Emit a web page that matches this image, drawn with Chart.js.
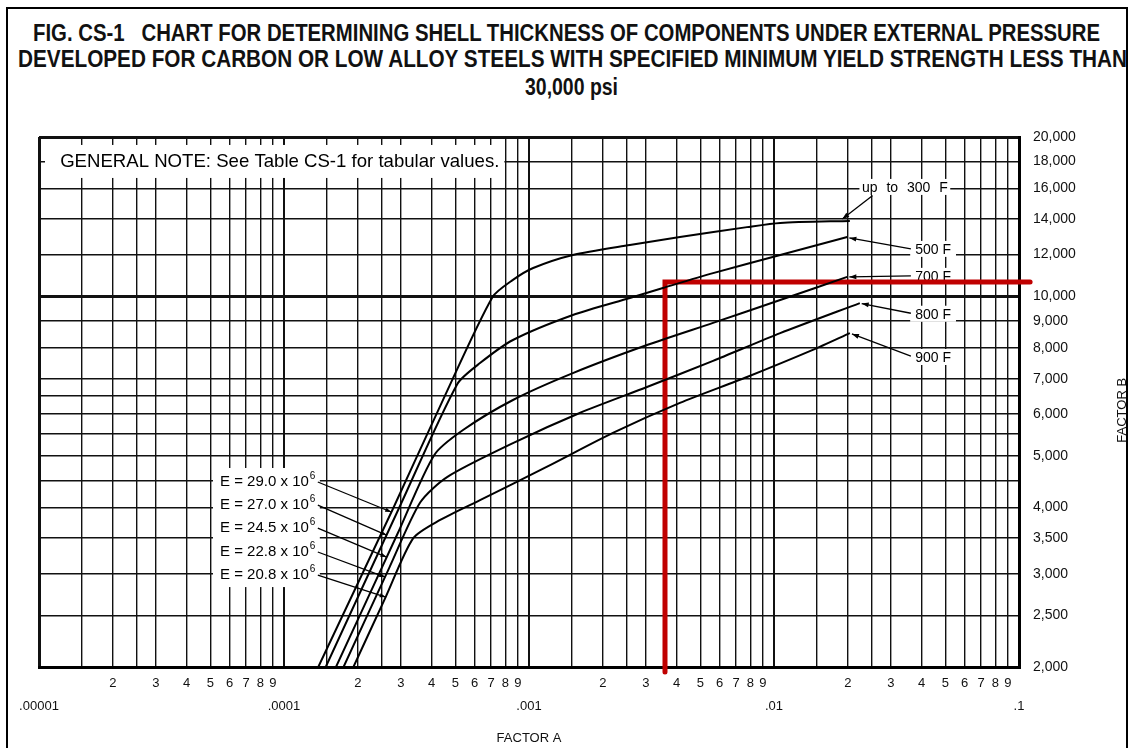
<!DOCTYPE html>
<html>
<head>
<meta charset="utf-8">
<title>Fig. CS-1</title>
<script src="https://cdn.jsdelivr.net/npm/chart.js@4.4.1/dist/chart.umd.min.js"></script>
<style>
  html, body { margin: 0; padding: 0; background: #fff; }
  #wrap { position: relative; width: 1136px; height: 748px; overflow: hidden; }
  #frame { position: absolute; left: 6px; top: 7px; width: 1122px; height: 800px; border: 2px solid #000; box-sizing: border-box; }
  .t { position: absolute; white-space: nowrap; font-family: 'Liberation Sans', Arial, sans-serif; font-weight: bold;
       font-size: 24px; line-height: 24px; color: #111; transform-origin: 0 0; }
  canvas { position: absolute; left: 0; top: 0; }
</style>
</head>
<body>
<div id="wrap">
  <div id="frame"></div>
  <div class="t" style="left:33px;top:21px" data-w="1067">FIG. CS-1&nbsp;&nbsp;&nbsp;CHART FOR DETERMINING SHELL THICKNESS OF COMPONENTS UNDER EXTERNAL PRESSURE</div>
  <div class="t" style="left:18px;top:47px" data-w="1109">DEVELOPED FOR CARBON OR LOW ALLOY STEELS WITH SPECIFIED MINIMUM YIELD STRENGTH LESS THAN</div>
  <div class="t" style="left:525px;top:75px" data-w="93">30,000 psi</div>
  <canvas id="cs1" width="1136" height="748"></canvas>
</div>
<script>
/* ==========================================================================
   Fig. CS-1 — external pressure chart, Factor A vs Factor B (log-log)
   ========================================================================== */

const plotFont = "'Liberation Sans', Arimo, Arial, sans-serif";

// Curves, one pair of arrays per temperature (Factor A, Factor B)
const curveNames = ['up to 300 F', '500 F', '700 F', '800 F', '900 F'];
const modulusLabels = ['29.0', '27.0', '24.5', '22.8', '20.8'];

const factorA300 = [1.38e-4, 2.80e-4, 4.40e-4, 7.10e-4, 8.60e-4, 1.04e-3, 1.51e-3, 2.58e-3, 4.13e-3, 7.76e-3, 1.06e-2, 2.04e-2];
const factorB300 = [2000, 4000, 6300, 9980, 10750, 11320, 11980, 12510, 12950, 13520, 13770, 13890];

const factorA500 = [1.48e-4, 3.00e-4, 5.10e-4, 6.31e-4, 8.60e-4, 1.51e-3, 2.58e-3, 3.52e-3, 5.64e-3, 1.06e-2, 1.99e-2];
const factorB500 = [2000, 4060, 6840, 7490, 8280, 9230, 9940, 10380, 11070, 11980, 12950];

const factorA700 = [1.63e-4, 2.90e-4, 4.10e-4, 5.38e-4, 8.60e-4, 1.51e-3, 3.03e-3, 5.64e-3, 1.06e-2, 1.99e-2];
const factorB700 = [2000, 3560, 5020, 5600, 6380, 7170, 8100, 8920, 9850, 10890];

const factorA800 = [1.75e-4, 2.70e-4, 3.60e-4, 4.63e-4, 8.60e-4, 1.61e-3, 3.03e-3, 5.64e-3, 1.06e-2, 2.24e-2];
const factorB800 = [2000, 3090, 4090, 4565, 5290, 6030, 6750, 7560, 8530, 9720];

const factorA900 = [1.92e-4, 2.60e-4, 3.37e-4, 4.30e-4, 6.31e-4, 1.18e-3, 2.20e-3, 4.13e-3, 7.76e-3, 1.44e-2, 2.04e-2];
const factorB900 = [2000, 2710, 3500, 3780, 4130, 4770, 5530, 6300, 7050, 7930, 8530];

// Red construction line drawn over the chart
const guideA = [3.59e-3, 3.59e-3, 0.111];
const guideB = [1957, 10650, 10650];

// Axis ticks
const decadeValues = [1e-5, 1e-4, 1e-3, 1e-2, 1e-1];
const decadeLabels = ['.00001', '.0001', '.001', '.01', '.1'];
const minorSteps = [1.5, 2, 2.5, 3, 4, 5, 6, 7, 8, 9];
const minorLabels = ['', '2', '', '3', '4', '5', '6', '7', '8', '9'];

const factorBTicks = [2000, 2500, 3000, 3500, 4000, 4500, 5000, 5500, 6000, 6500, 7000, 8000, 9000, 10000, 12000, 14000, 16000, 18000, 20000];
const factorBLabels = ['2,000', '2,500', '3,000', '3,500', '4,000', '', '5,000', '', '6,000', '', '7,000', '8,000', '9,000', '10,000', '12,000', '14,000', '16,000', '18,000', '20,000'];

// Callout placement, in chart units (Factor A, Factor B)
const noteText = 'GENERAL NOTE: See Table CS-1 for tabular values.';
const notePlace = { text: [1.22e-5, 17920], boxLeft: 1.058e-5, boxTop: 19320, boxBottom: 16740 };

const tempCallouts = [
  { at: [0.0342, 16100], from: [0.0252, 15500], to: [0.0190, 14000] },
  { at: [0.0446, 12300], from: [0.0362, 12300], to: [0.0203, 12900] },
  { at: [0.0446, 10940], from: [0.0362, 10940], to: [0.0203, 10890] },
  { at: [0.0446, 9280], from: [0.0362, 9300], to: [0.0228, 9700] },
  { at: [0.0446, 7690], from: [0.0362, 7720], to: [0.0208, 8500] }
];

const eCallouts = [
  { at: [5.48e-5, 4468], to: [2.74e-4, 3922] },
  { at: [5.48e-5, 4042], to: [2.62e-4, 3548] },
  { at: [5.48e-5, 3658], to: [2.62e-4, 3224] },
  { at: [5.48e-5, 3296], to: [2.59e-4, 2956] },
  { at: [5.48e-5, 2982], to: [2.60e-4, 2710] }
];

// ---- title lines: squeeze each to the width of the original ----
document.querySelectorAll('.t').forEach(el => {
  const w = el.getBoundingClientRect().width;
  el.style.transform = `scaleX(${(+el.dataset.w / w).toFixed(4)})`;
});

// ---- build ticks ----
const xTicks = [];
decadeValues.forEach((d, i) => {
  xTicks.push({ value: d, label: ['', decadeLabels[i]], decade: true });
  if (i < decadeValues.length - 1) {
    minorSteps.forEach((s, j) => xTicks.push({ value: d * s, label: minorLabels[j], decade: false }));
  }
});

const series = [
  [factorA300, factorB300], [factorA500, factorB500], [factorA700, factorB700],
  [factorA800, factorB800], [factorA900, factorB900]
];

const datasets = series.map(([a, b], i) => ({
  label: curveNames[i],
  data: a.map((v, k) => ({ x: v, y: b[k] })),
  borderColor: '#000',
  borderWidth: 2,
  pointRadius: 0,
  tension: 0.25,
  fill: false
}));

datasets.push({
  label: 'guide',
  data: guideA.map((v, k) => ({ x: v, y: guideB[k] })),
  borderColor: '#c00000',
  borderWidth: 5,
  pointRadius: 0,
  tension: 0,
  clip: false,
  borderCapStyle: 'round',
  fill: false
});

function arrowHead(ctx, x0, y0, x1, y1, len, half) {
  const ang = Math.atan2(y1 - y0, x1 - x0);
  ctx.beginPath();
  ctx.moveTo(x1, y1);
  ctx.lineTo(x1 - len * Math.cos(ang) + half * Math.sin(ang), y1 - len * Math.sin(ang) - half * Math.cos(ang));
  ctx.lineTo(x1 - len * Math.cos(ang) - half * Math.sin(ang), y1 - len * Math.sin(ang) + half * Math.cos(ang));
  ctx.closePath();
  ctx.fill();
}

const callouts = {
  id: 'callouts',
  beforeDatasetsDraw(chart) {
    const { ctx, scales: { x, y } } = chart;
    const px = a => x.getPixelForValue(a);
    const py = b => y.getPixelForValue(b);
    ctx.save();
    ctx.textBaseline = 'middle';
    ctx.lineWidth = 1.3;
    ctx.strokeStyle = '#000';

    // general note
    ctx.font = `18.6px ${plotFont}`;
    const nx = px(notePlace.text[0]), ny = py(notePlace.text[1]);
    const nw = ctx.measureText(noteText).width;
    const bl = px(notePlace.boxLeft), bt = py(notePlace.boxTop), bb = py(notePlace.boxBottom);
    ctx.fillStyle = '#fff';
    ctx.fillRect(bl, bt, nx + nw + 5 - bl, bb - bt);
    ctx.fillStyle = '#000';
    ctx.fillText(noteText, nx, ny);

    // modulus labels
    ctx.font = `15px ${plotFont}`;
    const texts = modulusLabels.map(m => `E = ${m} x 10`);
    const widths = texts.map(t => ctx.measureText(t).width);
    const left = px(eCallouts[0].at[0]);
    const top = py(eCallouts[0].at[1]) - 14;
    const bottom = py(eCallouts[eCallouts.length - 1].at[1]) + 12;
    ctx.fillStyle = '#fff';
    ctx.fillRect(left - 7, top, Math.max(...widths) + 18, bottom - top);
    eCallouts.forEach((c, i) => {
      const tx = px(c.at[0]), ty = py(c.at[1]);
      ctx.fillStyle = '#000';
      ctx.font = `15px ${plotFont}`;
      ctx.fillText(texts[i], tx, ty);
      ctx.font = `10px ${plotFont}`;
      ctx.fillText('6', tx + widths[i] + 1, ty - 6);
      const sx = tx + widths[i] + 9, ex = px(c.to[0]), ey = py(c.to[1]);
      ctx.beginPath();
      ctx.moveTo(sx, ty);
      ctx.lineTo(ex, ey);
      ctx.stroke();
      arrowHead(ctx, sx, ty, ex, ey, 6, 2.2);
    });

    // temperature labels
    ctx.font = `14px ${plotFont}`;
    ctx.textAlign = 'center';
    tempCallouts.forEach((c, i) => {
      const cx = px(c.at[0]), cy = py(c.at[1]);
      const w = ctx.measureText(curveNames[i]).width + (i === 0 ? 10 : 0);
      ctx.fillStyle = '#fff';
      ctx.fillRect(cx - w / 2 - 5, cy - 8, w + 10, 16);
      ctx.fillStyle = '#000';
      if (i === 0) ctx.wordSpacing = '5px';
      ctx.fillText(curveNames[i], cx, cy + 1);
      ctx.wordSpacing = '0px';
      const sx = px(c.from[0]), sy = py(c.from[1]), ex = px(c.to[0]), ey = py(c.to[1]);
      ctx.beginPath();
      ctx.moveTo(sx, sy);
      ctx.lineTo(ex, ey);
      ctx.stroke();
      arrowHead(ctx, sx, sy, ex, ey, 7, 2.5);
    });
    ctx.restore();
  },
  afterDraw(chart) {
    const { ctx, chartArea } = chart;
    ctx.save();
    ctx.translate(chartArea.right + 103, chart.scales.y.getPixelForValue(6100));
    ctx.rotate(-Math.PI / 2);
    ctx.font = `13px ${plotFont}`;
    ctx.fillStyle = '#111';
    ctx.textAlign = 'center';
    ctx.textBaseline = 'middle';
    ctx.fillText('FACTOR B', 0, 0);
    ctx.restore();
  }
};

Chart.defaults.font.family = plotFont;
Chart.defaults.color = '#111';

new Chart(document.getElementById('cs1'), {
  type: 'line',
  data: { datasets },
  plugins: [callouts],
  options: {
    responsive: false,
    animation: false,
    layout: { padding: { left: 39, top: 137, right: 0, bottom: 0 } },
    plugins: { legend: { display: false }, tooltip: { enabled: false } },
    scales: {
      x: {
        type: 'logarithmic', position: 'bottom', min: 1e-5, max: 0.1,
        afterBuildTicks: s => { s.ticks = xTicks.map(t => ({ value: t.value })); },
        afterFit: s => { s.height = 81; },
        ticks: {
          autoSkip: false, maxRotation: 0, minRotation: 0, padding: 5,
          font: { size: 13, lineHeight: 1.77 },
          callback: (v, i) => xTicks[i].label
        },
        grid: {
          color: '#111', drawTicks: false,
          lineWidth: c => (c.index === 0 || c.index === xTicks.length - 1) ? 3 : (xTicks[c.index] && xTicks[c.index].decade ? 2 : 1.4)
        },
        border: { display: true, color: '#000', width: 3 },
        title: { display: true, text: 'FACTOR A', font: { size: 13 }, padding: { top: 2, bottom: 2 } }
      },
      y: {
        type: 'logarithmic', position: 'right', min: 2000, max: 20000,
        afterBuildTicks: s => { s.ticks = factorBTicks.map(v => ({ value: v })); },
        afterFit: s => { s.width = 117; },
        ticks: {
          autoSkip: false, padding: 14,
          font: { size: 14 },
          callback: (v, i) => factorBLabels[i]
        },
        grid: {
          color: '#111', drawTicks: false,
          lineWidth: c => (c.index === 0 || c.index === factorBTicks.length - 1 || factorBTicks[c.index] === 10000) ? 3 : 1.4
        },
        border: { display: true, color: '#000', width: 3 }
      }
    }
  }
});
</script>
</body>
</html>
